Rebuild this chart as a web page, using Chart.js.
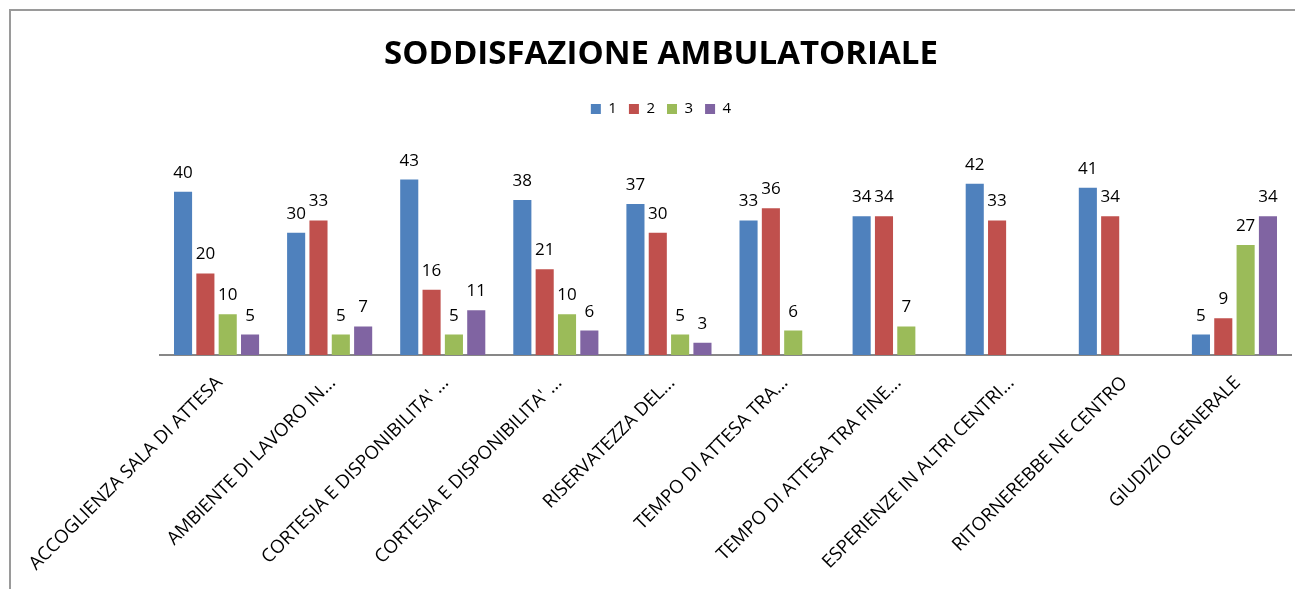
<!DOCTYPE html>
<html>
<head>
<meta charset="utf-8">
<script src="https://cdn.jsdelivr.net/npm/chart.js@4.4.1/dist/chart.umd.min.js"></script>
<style>
  html, body { margin: 0; padding: 0; background: #fff; }
  #wrap { position: relative; width: 1295px; height: 589px; overflow: hidden; }
  #frame { position: absolute; left: 9px; top: 9px; right: -10px; bottom: -10px;
           border-left: 2px solid #9a9a9a; border-top: 2px solid #9a9a9a; }
  #chart { position: absolute; left: 0; top: 0; }
</style>
</head>
<body>
<div id="wrap">
  <div id="frame"></div>
  <canvas id="chart" width="1295" height="589"></canvas>
</div>
<script>
// categorie (etichette troncate come nel grafico originale)
const categories = [
    "ACCOGLIENZA SALA DI ATTESA",
    "AMBIENTE DI LAVORO IN...",
    "CORTESIA E DISPONIBILITA' ...",
    "CORTESIA E DISPONIBILITA' ...",
    "RISERVATEZZA DEL...",
    "TEMPO DI ATTESA TRA...",
    "TEMPO DI ATTESA TRA FINE...",
    "ESPERIENZE IN ALTRI CENTRI...",
    "RITORNEREBBE NE CENTRO",
    "GIUDIZIO GENERALE"
];

// valori per giudizio (null = nessuna risposta)
const serie1 = [40, 30, 43, 38, 37, 33, 34, 42, 41, 5];
const serie2 = [20, 33, 16, 21, 30, 36, 34, 33, 34, 9];
const serie3 = [10, 5, 5, 10, 5, 6, 7, null, null, 27];
const serie4 = [5, 7, 11, 6, 3, null, null, null, null, 34];

const seriesNames = ["1", "2", "3", "4"];
const colors = ['#4F81BD', '#C0504D', '#9BBB59', '#8064A2'];

Chart.defaults.font.family = "'Open Sans', sans-serif";
Chart.defaults.color = '#000';

// etichette dei valori sopra le barre
const valueLabels = {
    id: 'valueLabels',
    afterDatasetsDraw(chart) {
        const ctx = chart.ctx;
        ctx.save();
        ctx.font = "17px 'Open Sans', sans-serif";
        ctx.fillStyle = '#000';
        ctx.textAlign = 'center';
        ctx.textBaseline = 'alphabetic';
        chart.data.datasets.forEach((ds, i) => {
            const meta = chart.getDatasetMeta(i);
            meta.data.forEach((bar, j) => {
                const v = ds.data[j];
                if (v === null || v === undefined) return;
                ctx.fillText(String(v), bar.x, bar.y - 14);
            });
        });
        ctx.restore();
    }
};

const allSeries = [serie1, serie2, serie3, serie4];

new Chart(document.getElementById('chart').getContext('2d'), {
    type: 'bar',
    data: {
        labels: categories,
        datasets: allSeries.map((d, i) => ({
            label: seriesNames[i],
            data: d,
            backgroundColor: colors[i],
            borderWidth: 0,
            categoryPercentage: 0.79,
            barPercentage: 0.81
        }))
    },
    options: {
        responsive: false,
        animation: false,
        layout: { padding: { left: 31, right: 4, top: 0, bottom: 0 } },
        plugins: {
            title: {
                display: true,
                text: 'SODDISFAZIONE AMBULATORIALE',
                font: { size: 33, weight: 'bold' },
                color: '#000',
                padding: { top: 35, bottom: 15 }
            },
            legend: {
                display: true,
                position: 'top',
                labels: { boxWidth: 10, boxHeight: 10, padding: 12, font: { size: 15 }, color: '#000' }
            },
            tooltip: { enabled: false }
        },
        scales: {
            x: {
                grid: { display: false, drawTicks: false },
                border: { display: true, color: '#878787', width: 2 },
                ticks: {
                    autoSkip: false,
                    minRotation: 45,
                    maxRotation: 45,
                    padding: 17,
                    labelOffset: 3,
                    font: { size: 18.5 },
                    color: '#000'
                },
                afterFit(scale) { scale.height = 234; }
            },
            y: {
                display: true,
                min: 0,
                max: 56,
                grid: { display: false },
                border: { display: false },
                ticks: { display: false },
                afterFit(scale) { scale.width = 129; }
            }
        }
    },
    plugins: [valueLabels]
});
</script>
</body>
</html>
